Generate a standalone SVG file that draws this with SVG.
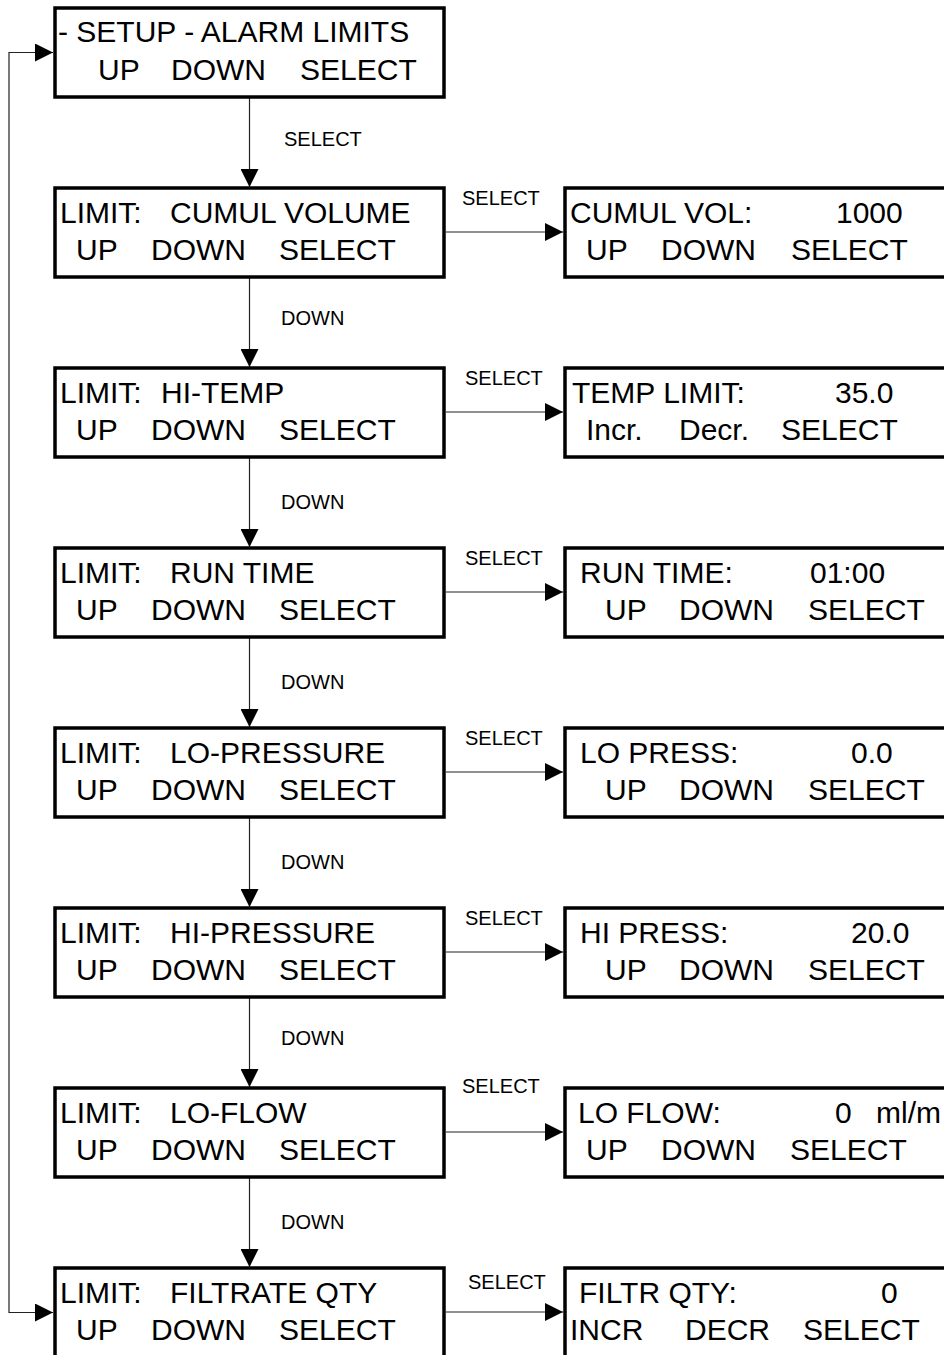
<svg xmlns="http://www.w3.org/2000/svg" width="944" height="1355" viewBox="0 0 944 1355">
<style>
.box{fill:#fff;stroke:#000;stroke-width:3.5}
.t{font-family:"Liberation Sans",Arial,sans-serif;font-size:30px;fill:#000}
.lbl{font-family:"Liberation Sans",Arial,sans-serif;font-size:20px;fill:#000}
.con{fill:none;stroke:#222;stroke-width:1.2;marker-end:url(#ah)}
</style>
<defs>
<marker id="ah" markerUnits="userSpaceOnUse" markerWidth="18" markerHeight="18" refX="18" refY="9" orient="auto-start-reverse" viewBox="0 0 18 18">
<path d="M0,0 L18,9 L0,18 z" fill="#000"/>
</marker>
</defs>
<rect width="944" height="1355" fill="#fff"/>

<g id="connectors">
<path class="con" d="M53 52.5 H9 V1312.5 H53" style="marker-start:url(#ah)"/>
<path class="con" d="M249.5 98 V187"/>
<path class="con" d="M249.5 278 V367"/>
<path class="con" d="M249.5 458 V547"/>
<path class="con" d="M249.5 638 V727"/>
<path class="con" d="M249.5 818 V907"/>
<path class="con" d="M249.5 998 V1087"/>
<path class="con" d="M249.5 1178 V1267"/>
<path class="con" d="M446 232 H563"/>
<path class="con" d="M446 412 H563"/>
<path class="con" d="M446 592 H563"/>
<path class="con" d="M446 772 H563"/>
<path class="con" d="M446 952 H563"/>
<path class="con" d="M446 1132 H563"/>
<path class="con" d="M446 1312 H563"/>
<text class="lbl" x="284" y="146">SELECT</text>
<text class="lbl" x="281" y="325">DOWN</text>
<text class="lbl" x="281" y="509">DOWN</text>
<text class="lbl" x="281" y="689">DOWN</text>
<text class="lbl" x="281" y="869">DOWN</text>
<text class="lbl" x="281" y="1045">DOWN</text>
<text class="lbl" x="281" y="1229">DOWN</text>
<text class="lbl" x="462" y="205">SELECT</text>
<text class="lbl" x="465" y="385">SELECT</text>
<text class="lbl" x="465" y="565">SELECT</text>
<text class="lbl" x="465" y="745">SELECT</text>
<text class="lbl" x="465" y="925">SELECT</text>
<text class="lbl" x="462" y="1093">SELECT</text>
<text class="lbl" x="468" y="1289">SELECT</text>
</g>

<g id="setup">
<rect class="box" x="55" y="8" width="389" height="89"/>
<text class="t" x="58" y="42">- SETUP - ALARM LIMITS</text>
<text class="t" y="80"><tspan x="98">UP</tspan><tspan x="171">DOWN</tspan><tspan x="300">SELECT</tspan></text>
</g>

<g id="limit-cumul">
<rect class="box" x="55" y="188" width="389" height="89"/>
<text class="t" y="223"><tspan x="60">LIMIT:</tspan><tspan x="170">CUMUL VOLUME</tspan></text>
<text class="t" y="260"><tspan x="76">UP</tspan><tspan x="151">DOWN</tspan><tspan x="279">SELECT</tspan></text>
</g>
<g id="cumul-vol">
<rect class="box" x="565" y="188" width="400" height="89"/>
<text class="t" y="223"><tspan x="570">CUMUL VOL:</tspan><tspan x="836">1000</tspan></text>
<text class="t" y="260"><tspan x="586">UP</tspan><tspan x="661">DOWN</tspan><tspan x="791">SELECT</tspan></text>
</g>

<g id="limit-hitemp">
<rect class="box" x="55" y="368" width="389" height="89"/>
<text class="t" y="403"><tspan x="60">LIMIT:</tspan><tspan x="161">HI-TEMP</tspan></text>
<text class="t" y="440"><tspan x="76">UP</tspan><tspan x="151">DOWN</tspan><tspan x="279">SELECT</tspan></text>
</g>
<g id="temp-limit">
<rect class="box" x="565" y="368" width="400" height="89"/>
<text class="t" y="403"><tspan x="572">TEMP LIMIT:</tspan><tspan x="835">35.0</tspan></text>
<text class="t" y="440"><tspan x="586">Incr.</tspan><tspan x="679">Decr.</tspan><tspan x="781">SELECT</tspan></text>
</g>

<g id="limit-runtime">
<rect class="box" x="55" y="548" width="389" height="89"/>
<text class="t" y="583"><tspan x="60">LIMIT:</tspan><tspan x="170">RUN TIME</tspan></text>
<text class="t" y="620"><tspan x="76">UP</tspan><tspan x="151">DOWN</tspan><tspan x="279">SELECT</tspan></text>
</g>
<g id="run-time">
<rect class="box" x="565" y="548" width="400" height="89"/>
<text class="t" y="583"><tspan x="580">RUN TIME:</tspan><tspan x="810">01:00</tspan></text>
<text class="t" y="620"><tspan x="605">UP</tspan><tspan x="679">DOWN</tspan><tspan x="808">SELECT</tspan></text>
</g>

<g id="limit-lopress">
<rect class="box" x="55" y="728" width="389" height="89"/>
<text class="t" y="763"><tspan x="60">LIMIT:</tspan><tspan x="170">LO-PRESSURE</tspan></text>
<text class="t" y="800"><tspan x="76">UP</tspan><tspan x="151">DOWN</tspan><tspan x="279">SELECT</tspan></text>
</g>
<g id="lo-press">
<rect class="box" x="565" y="728" width="400" height="89"/>
<text class="t" y="763"><tspan x="580">LO PRESS:</tspan><tspan x="851">0.0</tspan></text>
<text class="t" y="800"><tspan x="605">UP</tspan><tspan x="679">DOWN</tspan><tspan x="808">SELECT</tspan></text>
</g>

<g id="limit-hipress">
<rect class="box" x="55" y="908" width="389" height="89"/>
<text class="t" y="943"><tspan x="60">LIMIT:</tspan><tspan x="170">HI-PRESSURE</tspan></text>
<text class="t" y="980"><tspan x="76">UP</tspan><tspan x="151">DOWN</tspan><tspan x="279">SELECT</tspan></text>
</g>
<g id="hi-press">
<rect class="box" x="565" y="908" width="400" height="89"/>
<text class="t" y="943"><tspan x="580">HI PRESS:</tspan><tspan x="851">20.0</tspan></text>
<text class="t" y="980"><tspan x="605">UP</tspan><tspan x="679">DOWN</tspan><tspan x="808">SELECT</tspan></text>
</g>

<g id="limit-loflow">
<rect class="box" x="55" y="1088" width="389" height="89"/>
<text class="t" y="1123"><tspan x="60">LIMIT:</tspan><tspan x="170">LO-FLOW</tspan></text>
<text class="t" y="1160"><tspan x="76">UP</tspan><tspan x="151">DOWN</tspan><tspan x="279">SELECT</tspan></text>
</g>
<g id="lo-flow">
<rect class="box" x="565" y="1088" width="400" height="89"/>
<text class="t" y="1123"><tspan x="578">LO FLOW:</tspan><tspan x="835">0</tspan><tspan x="876">ml/m</tspan></text>
<text class="t" y="1160"><tspan x="586">UP</tspan><tspan x="661">DOWN</tspan><tspan x="790">SELECT</tspan></text>
</g>

<g id="limit-filtrate">
<rect class="box" x="55" y="1268" width="389" height="89"/>
<text class="t" y="1303"><tspan x="60">LIMIT:</tspan><tspan x="170">FILTRATE QTY</tspan></text>
<text class="t" y="1340"><tspan x="76">UP</tspan><tspan x="151">DOWN</tspan><tspan x="279">SELECT</tspan></text>
</g>
<g id="filtr-qty">
<rect class="box" x="565" y="1268" width="400" height="89"/>
<text class="t" y="1303"><tspan x="579">FILTR QTY:</tspan><tspan x="881">0</tspan></text>
<text class="t" y="1340"><tspan x="570">INCR</tspan><tspan x="685">DECR</tspan><tspan x="803">SELECT</tspan></text>
</g>
</svg>
